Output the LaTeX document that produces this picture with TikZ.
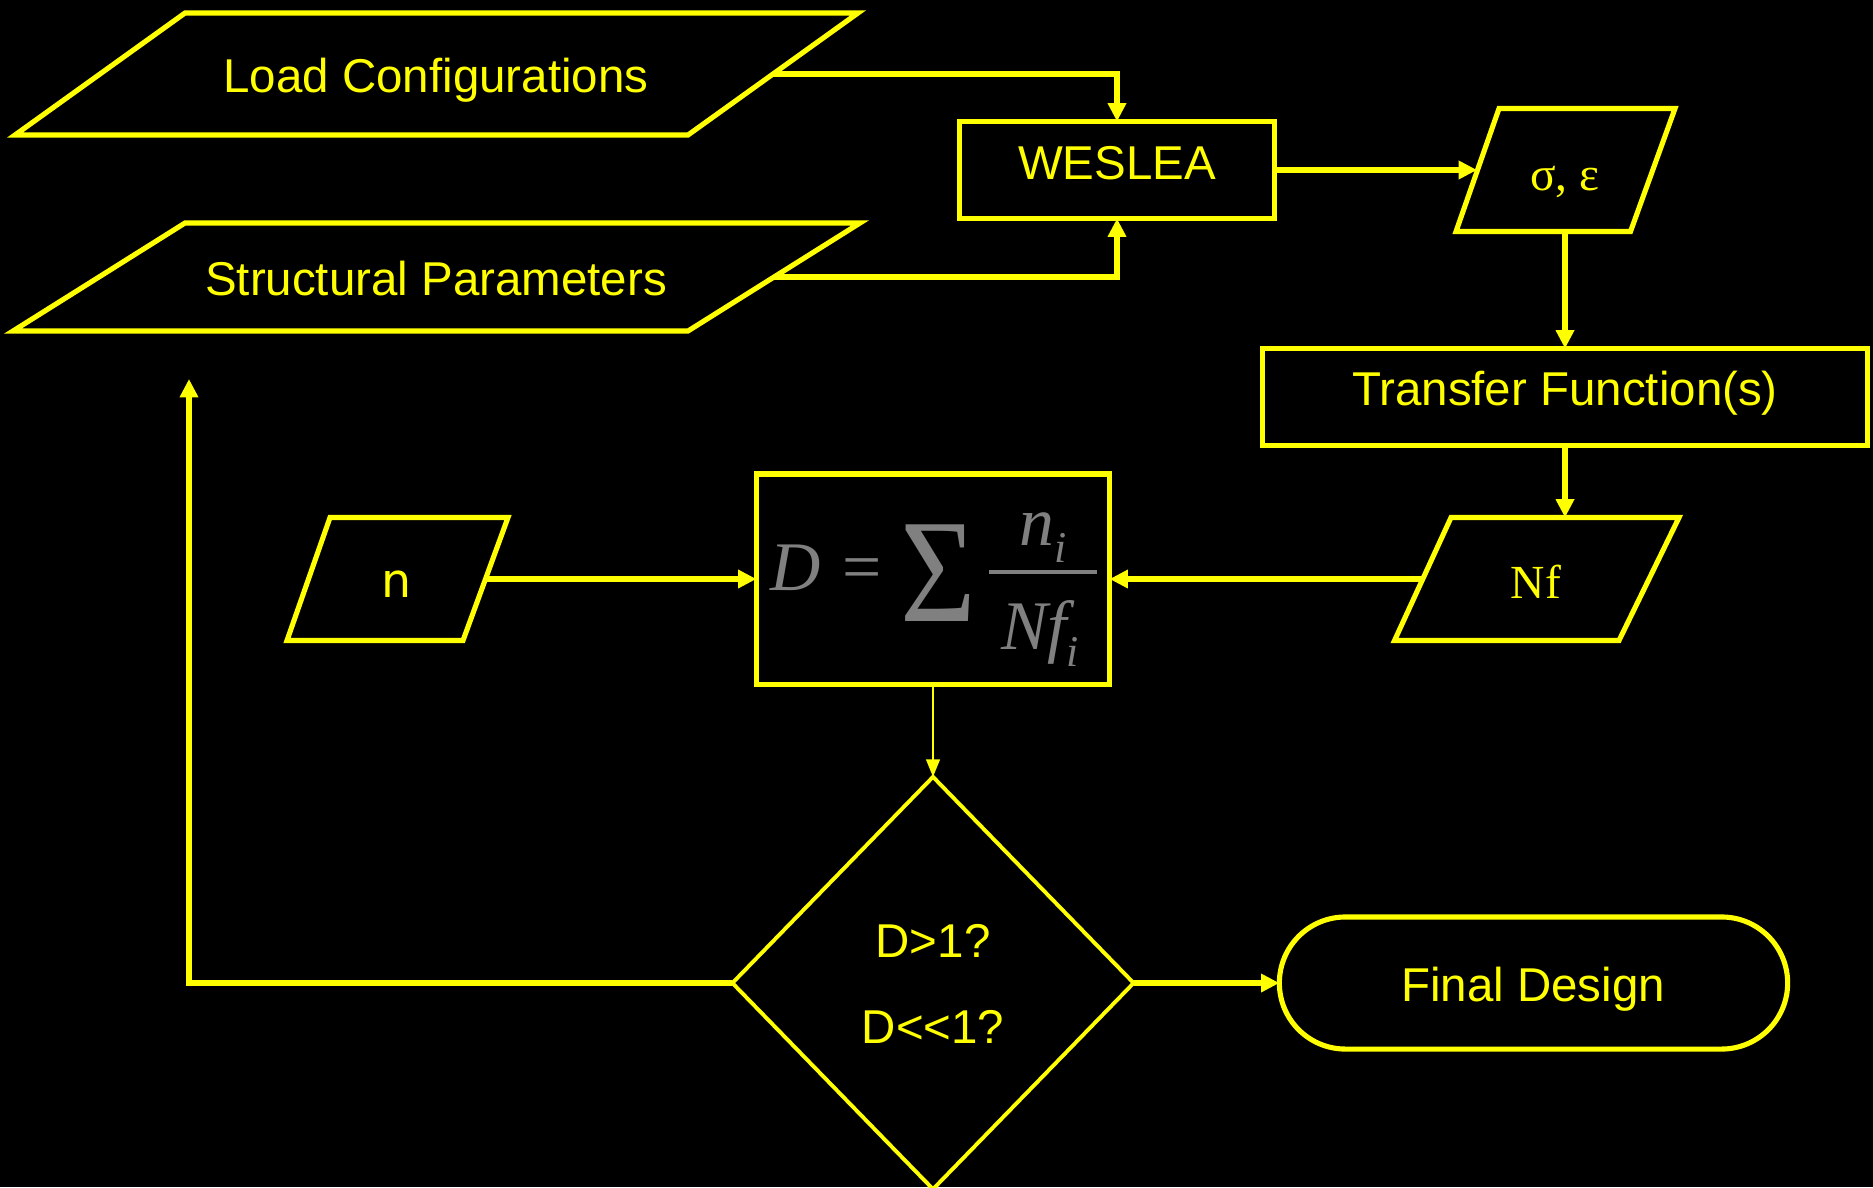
\documentclass[tikz,border=0pt]{standalone}
\usepackage{fontspec}
\setmainfont{Liberation Sans}
\newfontfamily\timesfam{Liberation Serif}
\newfontfamily\dvsans{DejaVu Sans}
\usetikzlibrary{arrows.meta,shapes.geometric}
\definecolor{flowyellow}{RGB}{255,255,0}
\definecolor{formulagray}{RGB}{128,128,128}

\begin{document}
\begin{tikzpicture}[x=0.01cm,y=-0.01cm,
  outline/.style={draw=flowyellow, line width=1.45pt, line join=miter},
  boxnode/.style={outline, rectangle, inner sep=0pt, outer sep=0pt},
  flowtext/.style={text=flowyellow, inner sep=0pt, anchor=base, font=\fontsize{13.5}{16}\selectfont},
  seriftext/.style={flowtext, font=\timesfam\fontsize{13.5}{16}\selectfont},
  flow/.style={draw=flowyellow, line width=1.45pt, -{Triangle[length=5.2pt,width=5pt]}},
  thinflow/.style={draw=flowyellow, line width=0.6pt, -{Triangle[length=5pt,width=3.9pt]}},
  eqtext/.style={text=formulagray, inner sep=0pt, anchor=base, font=\timesfam\itshape\fontsize{19.8}{22}\selectfont},
]
% canvas
\fill[black] (0,0) rectangle (1873,1187);
\useasboundingbox (0,0) rectangle (1873,1187);

% input parallelograms
\draw[outline] (185,13) -- (858,13) -- (688,135) -- (15,135) -- cycle;
\node[flowtext] (load-txt) at (436,92) {Load Configurations};
\coordinate (load-out) at (773,74);

\draw[outline] (185,223) -- (860,223) -- (688,331) -- (13,331) -- cycle;
\node[flowtext] (struct-txt) at (436,295) {Structural Parameters};
\coordinate (struct-out) at (774,277);

% WESLEA
\node[boxnode, minimum width=3.15cm, minimum height=0.97cm] (weslea) at (1117,170) {};
\node[flowtext] (weslea-txt) at (1117,179) {WESLEA};

% stresses and strains
\draw[outline] (1499,108.5) -- (1675,108.5) -- (1630.5,231.5) -- (1456,231.5) -- cycle;
\node[seriftext] (sig-txt) at (1565,190) {σ, ε};
\coordinate (sig-in) at (1477,170);
\coordinate (sig-out) at (1565,231.5);

% transfer functions
\node[boxnode, minimum width=6.04cm, minimum height=0.97cm] (transfer) at (1565,397) {};
\node[flowtext] (transfer-txt) at (1565,405) {Transfer Function(s)};

% allowable repetitions
\draw[outline] (1451,517.5) -- (1679,517.5) -- (1619,640.5) -- (1394.5,640.5) -- cycle;
\node[seriftext] (nf-txt) at (1536,598) {Nf};
\coordinate (nf-in) at (1565,517.5);
\coordinate (nf-out) at (1423,579);

% applied repetitions
\draw[outline] (330,517.5) -- (508,517.5) -- (463,640.5) -- (287,640.5) -- cycle;
\node[flowtext, font=\dvsans\fontsize{13.5}{16}\selectfont] (n-txt) at (397,597) {n};
\coordinate (n-out) at (485.5,579);

% damage sum
\node[boxnode, minimum width=3.53cm, minimum height=2.10cm] (dbox) at (933,579) {};
\node[eqtext] (eq-d) at (796,590) {D};
\node[eqtext, font=\timesfam\fontsize{19.8}{22}\selectfont] (eq-eq) at (862,590) {=};
\node[text=formulagray, inner sep=0pt, font=\timesfam\fontsize{42}{46}\selectfont] (eq-sum) at (938,573) {\scalebox{0.88}[1]{Σ}};
\node[eqtext] (eq-num) at (1043,545) {n\raisebox{-5.1pt}{\fontsize{12.5}{14}\selectfont i}};
\node[eqtext] (eq-den) at (1040,649) {Nf\raisebox{-5.1pt}{\fontsize{12.5}{14}\selectfont i}};
\draw[formulagray, line width=0.95pt] (989,572) -- (1097,572);

% decision
\node[draw=flowyellow, line width=1.1pt, diamond, inner sep=0pt, outer sep=0pt,
      minimum width=4.01cm, minimum height=4.12cm] (check) at (933,983) {};
\node[flowtext] (q1) at (933,957) {D>1?};
\node[flowtext] (q2) at (933,1043) {D<\kern0pt<1?};

% terminal
\node[boxnode, rounded corners=0.66cm, minimum width=5.08cm, minimum height=1.32cm] (final) at (1533.5,983) {};
\node[flowtext] (final-txt) at (1533,1001) {Final Design};

\coordinate (loop-end) at (189,379);

% connectors
\draw[flow] (load-out) -| (weslea.north);
\draw[flow] (struct-out) -| (weslea.south);
\draw[flow] (weslea.east) -- (sig-in);
\draw[flow] (sig-out) -- (transfer.north);
\draw[flow] (transfer.south) -- (nf-in);
\draw[flow] (nf-out) -- (dbox.east);
\draw[flow] (n-out) -- (dbox.west);
\draw[thinflow] (dbox.south) -- (check.north);
\draw[flow] (check.east) -- (final.west);
\draw[flow] (check.west) -| (loop-end);
\end{tikzpicture}
\end{document}
